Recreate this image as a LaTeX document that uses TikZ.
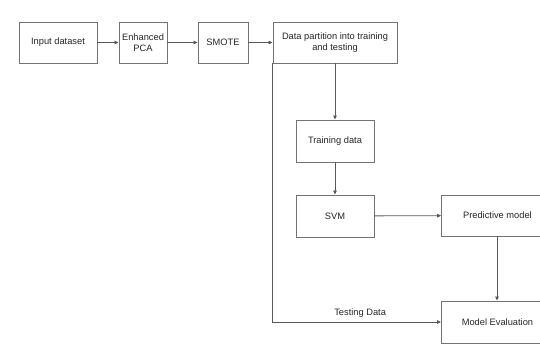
\documentclass[tikz,border=0pt]{standalone}
\usepackage{fontspec}
\setmainfont{Liberation Sans}
\usetikzlibrary{arrows.meta}
\begin{document}
\begin{tikzpicture}[x=1pt,y=-1pt,
  flowbox/.style={draw=black!55, line width=0.9pt, fill=white, inner sep=0pt,
    align=center, font=\fontsize{9.3}{10.5}\selectfont, text=black!85},
  flowline/.style={draw=black!65, line width=0.8pt},
  flowarrow/.style={flowline, -{Triangle[length=4pt,width=3.6pt]}}]
  \useasboundingbox (0,0) rectangle (540,347);
  % upper pipeline
  \node[flowbox, minimum width=78pt, minimum height=41pt] (inp) at (58,42.5) {Input dataset};
  \node[flowbox, minimum width=48pt, minimum height=41pt] (pca) at (143,42.5) {Enhanced\\PCA};
  \node[flowbox, minimum width=50pt, minimum height=41pt] (smote) at (223,42.5) {SMOTE};
  \node[flowbox, minimum width=124pt, minimum height=41pt] (part) at (335,42.5) {Data partition into training\\and testing};
  % training branch
  \node[flowbox, minimum width=78pt, minimum height=42pt] (train) at (335,141) {Training data};
  \node[flowbox, minimum width=78pt, minimum height=42pt] (svm) at (335,216) {SVM};
  \node[flowbox, minimum width=112pt, minimum height=41pt, anchor=west] (pred) at (441,215.5) {Predictive model};
  \node[flowbox, minimum width=112pt, minimum height=42pt, anchor=west] (eval) at (441,322) {Model Evaluation};
  % connectors
  \draw[flowarrow] (inp) -- (pca);
  \draw[flowarrow] (pca) -- (smote);
  \draw[flowarrow] (smote) -- (part);
  \draw[flowarrow] (part) -- (train);
  \draw[flowarrow] (train) -- (svm);
  \draw[flowarrow] (svm) -- (pred);
  \draw[flowarrow] (pred.south -| 497,0) -- (eval.north -| 497,0);
  \draw[flowarrow] (part.south west) -- (part.south west |- eval.west) -- node[above=0.5pt, pos=0.52, font=\fontsize{9.3}{10.5}\selectfont, text=black!85] {Testing Data} (eval.west);
\end{tikzpicture}
\end{document}
